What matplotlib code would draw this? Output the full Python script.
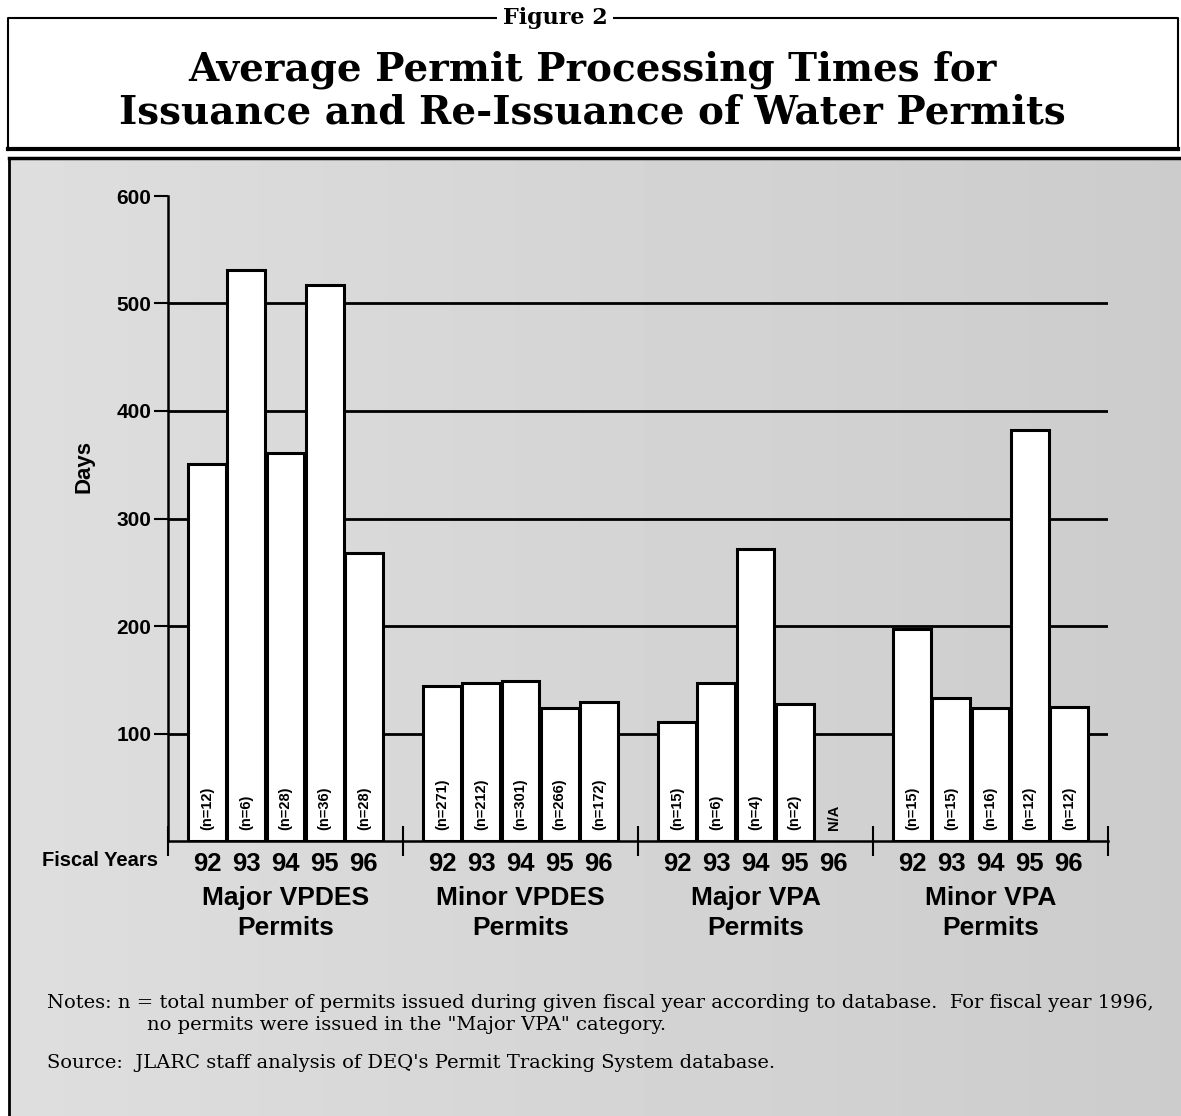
import numpy as np
import matplotlib
matplotlib.use('Agg')
import matplotlib.pyplot as plt

# 資料 -----------------------------------------------------------------
groups = ['Major VPDES\nPermits', 'Minor VPDES\nPermits',
          'Major VPA\nPermits', 'Minor VPA\nPermits']
years = ['92', '93', '94', '95', '96']
major_vpdes = [351, 531, 361, 517, 268]
minor_vpdes = [144, 147, 149, 124, 129]
major_vpa = [111, 147, 272, 127, None]   # 1996: no permits
minor_vpa = [197, 133, 124, 382, 125]
n_major_vpdes = ['(n=12)', '(n=6)', '(n=28)', '(n=36)', '(n=28)']
n_minor_vpdes = ['(n=271)', '(n=212)', '(n=301)', '(n=266)', '(n=172)']
n_major_vpa = ['(n=15)', '(n=6)', '(n=4)', '(n=2)', 'N/A']
n_minor_vpa = ['(n=15)', '(n=15)', '(n=16)', '(n=12)', '(n=12)']
yticks = [100, 200, 300, 400, 500, 600]
gridvals = [100, 200, 300, 400, 500]

series = [major_vpdes, minor_vpdes, major_vpa, minor_vpa]
nlabels = [n_major_vpdes, n_minor_vpdes, n_major_vpa, n_minor_vpa]

title_lines = ['Average Permit Processing Times for',
               'Issuance and Re-Issuance of Water Permits']
notes1 = ('Notes: n = total number of permits issued during given fiscal year '
          'according to database.  For fiscal year 1996,')
notes2 = 'no permits were issued in the "Major VPA" category.'
source = "Source:  JLARC staff analysis of DEQ's Permit Tracking System database."

# 作圖 -----------------------------------------------------------------
W, H = 1181, 1116
fig = plt.figure(figsize=(W / 100, H / 100), dpi=100)
fig.patch.set_facecolor('white')

def fx(x):
    return x / W

def fy(y):
    return 1 - y / H

sans = ['Liberation Sans', 'DejaVu Sans']
narrow = ['Liberation Sans Narrow', 'Liberation Sans', 'DejaVu Sans']
serif = ['DejaVu Serif']

# 灰色底板 (放在最底層的空白 axes)
bg = fig.add_axes([0, 0, 1, 1], zorder=-10)
bg.set_xlim(0, W)
bg.set_ylim(H, 0)
bg.axis('off')
bg.imshow(np.linspace(0.87, 0.80, 64)[None, :], cmap='gray', vmin=0, vmax=1,
          extent=[9, W, H, 158], aspect='auto', interpolation='bilinear')
bg.set_xlim(0, W)
bg.set_ylim(H, 0)
bg.plot([9, W], [158, 158], color='black', lw=2.5)
bg.plot([9, 9], [158, H], color='black', lw=2)

# 標題框
bg.plot([8, 8, 1178, 1178], [150, 18, 18, 150], color='black', lw=1.5)
bg.plot([8, 1178], [149, 149], color='black', lw=3)
bg.text(555, 18, 'Figure 2', ha='center', va='center', fontsize=16,
        fontweight='bold', family=serif,
        bbox=dict(facecolor='white', edgecolor='none', pad=4))
bg.text(592, 70, title_lines[0], ha='center', va='center', fontsize=28,
        fontweight='bold', family=serif)
bg.text(592, 112, title_lines[1], ha='center', va='center', fontsize=28,
        fontweight='bold', family=serif)

# 主圖
ax = fig.add_axes([fx(168), fy(841), fx(1108) - fx(168), fy(196) - fy(841)],
                  zorder=5)
ax.patch.set_alpha(0)
ax.set_xlim(-1, 23)
ax.set_ylim(0, 600)

for v in gridvals:
    ax.axhline(v, color='black', lw=2, zorder=1)

slots = []
labels = []
for g, (vals, ns) in enumerate(zip(series, nlabels)):
    for i, (v, nl) in enumerate(zip(vals, ns)):
        x = g * 6 + i
        slots.append(x)
        labels.append(years[i])
        if v is not None:
            ax.bar(x, v, width=0.97, color='white', edgecolor='black',
                   linewidth=2.2, zorder=2)
        ax.text(x, 10, nl, rotation=90, ha='center', va='bottom', fontsize=10.5,
                fontweight='bold', family=sans, zorder=3)
    ax.text(g * 6 + 2, -0.07, groups[g], transform=ax.get_xaxis_transform(),
            ha='center', va='top', fontsize=19, fontweight='bold', family=sans,
            linespacing=1.3)

ax.spines['top'].set_visible(False)
ax.spines['right'].set_visible(False)
ax.spines['left'].set_linewidth(1.8)
ax.spines['bottom'].set_linewidth(1.8)

ax.set_yticks(yticks)
ax.set_yticklabels([str(v) for v in yticks], fontsize=15, fontweight='bold',
                   family=sans)
ax.tick_params(axis='y', direction='out', length=10, width=1.5, pad=2)

ax.set_xticks(slots)
ax.set_xticklabels(labels, fontsize=18.5, fontweight='bold', family=narrow)
ax.tick_params(axis='x', which='major', length=0, pad=8)
ax.set_xticks([-1, 5, 11, 17, 23], minor=True)
ax.tick_params(axis='x', which='minor', direction='inout', length=22, width=1.5)

ax.set_ylabel('Days', fontsize=16, fontweight='bold', family=sans)
ax.yaxis.set_label_coords(-0.078, 0.58)
fig.text(fx(158), fy(860), 'Fiscal Years', ha='right', va='center', fontsize=14.5,
         fontweight='bold', family=sans)

# 附註
bg.text(47, 1003, notes1, ha='left', va='center', fontsize=14, family=serif)
bg.text(147, 1025, notes2, ha='left', va='center', fontsize=14, family=serif)
bg.text(47, 1063, source, ha='left', va='center', fontsize=14, family=serif)

fig.savefig('out.png', dpi=100)
